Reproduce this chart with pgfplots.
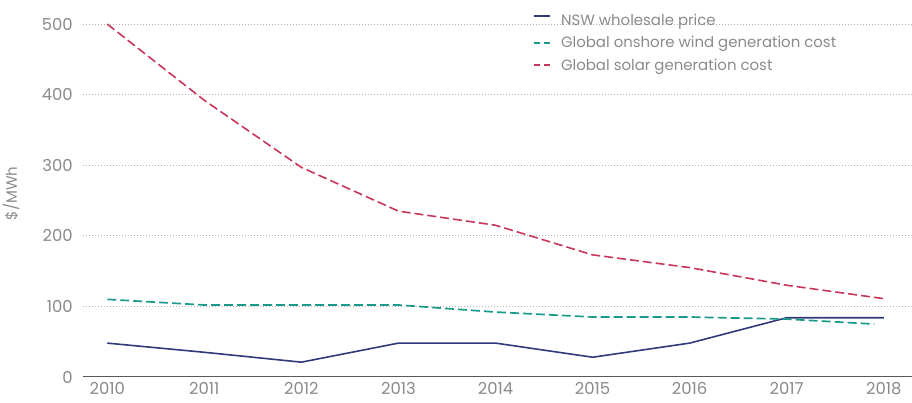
\documentclass[border=0pt]{standalone}
\usepackage{pgfplots}
\pgfplotsset{compat=1.18}
\usepackage{fontspec}
\setmainfont{Poppins}
\definecolor{nsw}{HTML}{2E3A7A}
\definecolor{wind}{HTML}{1A9A8A}
\definecolor{solar}{HTML}{C8365A}
\definecolor{txt}{HTML}{8A8A8A}
\pgfplotsset{
  leglow/.style={legend image code/.code={\draw[#1, line width=1.8bp, dash pattern=on 6bp off 4bp] (0bp,0bp) -- (16bp,0bp); \path[draw=none,fill=none] (25bp,0bp) circle (0.1bp);}},
  leghigh/.style={legend image code/.code={\draw[#1, line width=1.8bp] (0bp,5bp) -- (16bp,5bp); \path[draw=none,fill=none] (25bp,0bp) circle (0.1bp);}},
}
\begin{document}
\begin{tikzpicture}
\begin{axis}[
  scale only axis,
  width=829bp, height=367bp,
  xmin=2009.75, xmax=2018.29,
  ymin=0, ymax=520,
  axis y line*=left,
  axis x line*=bottom,
  x axis line style={draw=black!65, line width=1bp, -},
  y axis line style={draw=none, -},
  xtick={2010,...,2018},
  xticklabels={2010,2011,2012,2013,2014,2015,2016,2017,2018},
  ytick={0,100,200,300,400,500},
  yticklabels={0,100,200,300,400,500},
  major tick length=0pt,
  ymajorgrids,
  grid style={draw=black!30, dash pattern=on 1bp off 2bp, line width=1bp},
  tick label style={font=\fontsize{16.5}{18}\selectfont, text=txt},
  /pgf/number format/assume math mode=true,
  xticklabel style={yshift=-2bp},
  yticklabel style={anchor=east, inner sep=0pt, xshift=-10bp},
  ylabel={\$/MWh},
  every axis y label/.style={at={([xshift=-72bp]rel axis cs:0,0.5)}, rotate=90, anchor=center,
    text=txt, font=\fontsize{15}{16}\selectfont},
  clip=false,
  legend style={at={(0.539,1.0)}, anchor=north west, draw=none, fill=none,
    font=\fontsize{15}{17}\selectfont, text=txt, row sep=5.5bp,
    legend cell align=left},
  leglow,
]
\addplot[nsw, line width=1.6bp, leghigh] coordinates {
(2010,48) (2011,35) (2012,21) (2013,48) (2014,48) (2015,28) (2016,48) (2017,84) (2018,84)};
\addlegendentry{NSW wholesale price}
\addplot[wind, line width=1.7bp, dash pattern=on 9bp off 4bp] coordinates {
(2010,110) (2011,102) (2012,102) (2013,102) (2014,92) (2015,85) (2016,85) (2017,82) (2017.9,75)};
\addlegendentry{Global onshore wind generation cost}
\addplot[solar, line width=1.6bp, dash pattern=on 9bp off 4bp] coordinates {
(2010,500) (2011,392) (2012,297) (2013,235) (2014,215) (2015,173) (2016,155) (2017,130) (2018,111)};
\addlegendentry{Global solar generation cost}
\end{axis}
\pgfresetboundingbox
\path (current axis.south west) ++(-83bp,-26bp) coordinate (bl);
\path (current axis.north east) ++(0bp,10bp) coordinate (tr);
\useasboundingbox (bl) rectangle (tr);
\end{tikzpicture}
\end{document}
